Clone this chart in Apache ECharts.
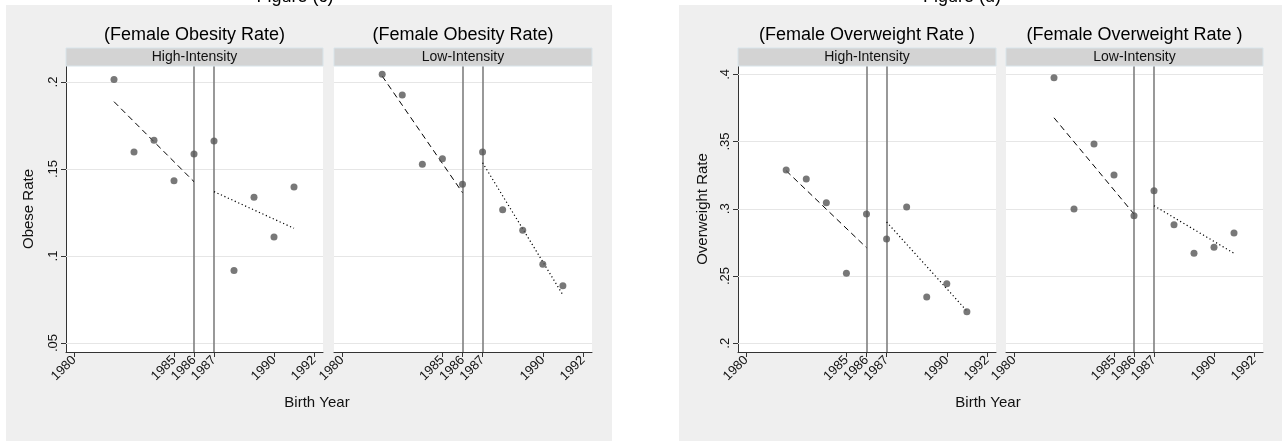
<!DOCTYPE html>
<html><head><meta charset="utf-8">
<script src="https://cdn.jsdelivr.net/npm/echarts@6/dist/echarts.min.js"></script>
<style>html,body{margin:0;padding:0;background:#fff}#c{width:1282px;height:441px}</style>
</head><body><div id="c"></div>
<script>
// ---------- data ----------
const years = [1982, 1983, 1984, 1985, 1986, 1987, 1988, 1989, 1990, 1991];
const obeseHigh = [0.2015, 0.1598, 0.1665, 0.1433, 0.1586, 0.1661, 0.0916, 0.1337, 0.1109, 0.1397];
const obeseLow  = [0.2044, 0.1925, 0.1527, 0.1559, 0.1412, 0.1598, 0.1266, 0.1148, 0.0952, 0.0829];
const overHigh  = [0.3288, 0.3222, 0.3045, 0.2520, 0.2961, 0.2775, 0.3013, 0.2344, 0.2443, 0.2235];
const overLow   = [0.3975, 0.2999, 0.3482, 0.3251, 0.2949, 0.3135, 0.2882, 0.2669, 0.2714, 0.2820];
// fitted-line end points (value at first and last year of each segment)
const preYears  = [1982, 1986];
const postYears = [1987, 1991];
const obeseHighPre = [0.1887, 0.1427], obeseHighPost = [0.1370, 0.1159];
const obeseLowPre  = [0.2034, 0.1364], obeseLowPost  = [0.1536, 0.0776];
const overHighPre  = [0.3283, 0.2711], overHighPost  = [0.2902, 0.2240];
const overLowPre   = [0.3677, 0.2961], overLowPost   = [0.3023, 0.2669];
const cutoffYears = [1986, 1987];
const xTicks = [1980, 1985, 1986, 1987, 1990, 1992];
const obeseTicks = [0.05, 0.1, 0.15, 0.2];
const obeseTickLabels = ['.05', '.1', '.15', '.2'];
const overTicks = [0.2, 0.25, 0.3, 0.35, 0.4];
const overTickLabels = ['.2', '.25', '.3', '.35', '.4'];
const stripLabels = ['High-Intensity', 'Low-Intensity'];
const titleObese = '(Female Obesity Rate)';
const titleOver = '(Female Overweight Rate )';
const xTitle = 'Birth Year';
const yTitleObese = 'Obese Rate';
const yTitleOver = 'Overweight Rate';
const topTexts = ['Figure (c)', 'Figure (d)'];

// ---------- layout ----------
const FONT = 'Liberation Sans, Arial, Helvetica, sans-serif';
const TOP = 66, H = 286;
const panels = [
  {left: 66,   width: 257, vals: obeseHigh, pre: obeseHighPre, post: obeseHighPost, ymin: 0.0448, ymax: 0.2092, ticks: obeseTicks, labels: obeseTickLabels, yname: yTitleObese, ygap: 30, strip: stripLabels[0], title: titleObese},
  {left: 334,  width: 258, vals: obeseLow,  pre: obeseLowPre,  post: obeseLowPost,  ymin: 0.0448, ymax: 0.2092, ticks: obeseTicks, labels: obeseTickLabels, yname: null, strip: stripLabels[1], title: titleObese},
  {left: 738,  width: 258, vals: overHigh,  pre: overHighPre,  post: overHighPost,  ymin: 0.1935, ymax: 0.4062, ticks: overTicks, labels: overTickLabels, yname: yTitleOver, ygap: 28, strip: stripLabels[0], title: titleOver},
  {left: 1006, width: 257, vals: overLow,   pre: overLowPre,   post: overLowPost,   ymin: 0.1935, ymax: 0.4062, ticks: overTicks, labels: overTickLabels, yname: null, strip: stripLabels[1], title: titleOver}
];

const grid = [], xAxis = [], yAxis = [], series = [], graphic = [];

// figure backgrounds
graphic.push({type: 'rect', z: -10, shape: {x: 6, y: 5, width: 606, height: 436}, style: {fill: '#efefef'}, silent: true});
graphic.push({type: 'rect', z: -10, shape: {x: 679, y: 5, width: 603, height: 436}, style: {fill: '#efefef'}, silent: true});
// cut-off top captions
graphic.push({type: 'text', z: 5, x: 295, y: -3, style: {text: topTexts[0], font: '18px ' + FONT, fill: '#000', align: 'center', verticalAlign: 'middle'}});
graphic.push({type: 'text', z: 5, x: 962, y: -3, style: {text: topTexts[1], font: '18px ' + FONT, fill: '#000', align: 'center', verticalAlign: 'middle'}});
// x titles
graphic.push({type: 'text', z: 5, x: 317, y: 403, style: {text: xTitle, font: '15px ' + FONT, fill: '#111', align: 'center', verticalAlign: 'middle'}});
graphic.push({type: 'text', z: 5, x: 988, y: 403, style: {text: xTitle, font: '15px ' + FONT, fill: '#111', align: 'center', verticalAlign: 'middle'}});

panels.forEach((p, i) => {
  grid.push({left: p.left, top: TOP, width: p.width, height: H, show: true, backgroundColor: '#ffffff', borderWidth: 0, containLabel: false});
  const cx = p.left + p.width / 2;
  // title and strip
  graphic.push({type: 'text', z: 5, x: cx, y: 35, style: {text: p.title, font: '18px ' + FONT, fill: '#000', align: 'center', verticalAlign: 'middle'}});
  graphic.push({type: 'rect', z: 5, shape: {x: p.left, y: 48, width: p.width, height: 18}, style: {fill: '#d3d3d3', stroke: '#d8e4ea', lineWidth: 1}});
  graphic.push({type: 'text', z: 6, x: cx, y: 57, style: {text: p.strip, font: '14px ' + FONT, fill: '#111', align: 'center', verticalAlign: 'middle'}});

  xAxis.push({
    type: 'value', gridIndex: i, min: 1979.6, max: 1992.45,
    axisLine: {show: true, onZero: false, lineStyle: {color: '#333', width: 1}},
    axisTick: {show: true, customValues: xTicks, length: 5, lineStyle: {color: '#333', width: 1}},
    axisLabel: {show: true, customValues: xTicks, rotate: 45, margin: 6, fontSize: 13, fontFamily: FONT, color: '#111', formatter: v => String(v)},
    splitLine: {show: false}
  });
  const fmt = v => { const k = p.ticks.findIndex(t => Math.abs(t - v) < 1e-9); return k >= 0 ? p.labels[k] : ''; };
  const showY = !!p.yname;
  yAxis.push({
    type: 'value', gridIndex: i, min: p.ymin, max: p.ymax, show: showY,
    axisLine: {show: true, onZero: false, lineStyle: {color: '#333', width: 1}},
    axisTick: {show: true, customValues: p.ticks, length: 5, lineStyle: {color: '#333', width: 1}},
    axisLabel: {show: true, customValues: p.ticks, rotate: 90, margin: 6, fontSize: 13, fontFamily: FONT, color: '#111', formatter: fmt},
    splitLine: {show: false},
    name: p.yname || '', nameLocation: 'middle', nameRotate: 90, nameGap: p.ygap || 30,
    nameTextStyle: {fontSize: 15, fontFamily: FONT, color: '#111'}
  });

  // horizontal grid lines
  series.push({
    type: 'line', xAxisIndex: i, yAxisIndex: i, data: [], silent: true, z: 1,
    markLine: {silent: true, z: 1, symbol: ['none', 'none'], label: {show: false}, animation: false,
      lineStyle: {color: '#e6e6e6', width: 1, type: 'solid'},
      data: p.ticks.map(v => ({yAxis: v}))}
  });
  // cutoff vertical lines
  series.push({
    type: 'line', xAxisIndex: i, yAxisIndex: i, data: [], silent: true, z: 2,
    markLine: {silent: true, z: 2, symbol: ['none', 'none'], label: {show: false}, animation: false,
      lineStyle: {color: '#7f7f7f', width: 1.6, type: 'solid'},
      data: cutoffYears.map(v => ({xAxis: v}))}
  });
  // fitted lines
  series.push({
    type: 'line', xAxisIndex: i, yAxisIndex: i, z: 3, showSymbol: false, silent: true,
    data: preYears.map((y, k) => [y, p.pre[k]]),
    lineStyle: {color: '#000', width: 1, type: [6, 4]}
  });
  series.push({
    type: 'line', xAxisIndex: i, yAxisIndex: i, z: 3, showSymbol: false, silent: true,
    data: postYears.map((y, k) => [y, p.post[k]]),
    lineStyle: {color: '#000', width: 1.2, type: [1.2, 2.6]}
  });
  // points
  series.push({
    type: 'scatter', xAxisIndex: i, yAxisIndex: i, z: 4, symbol: 'circle', symbolSize: 7,
    itemStyle: {color: '#565656'},
    data: years.map((y, k) => [y, p.vals[k]])
  });
});

const chart = echarts.init(document.getElementById('c'), null, {renderer: 'canvas', width: 1282, height: 441});
chart.setOption({
  animation: false,
  backgroundColor: '#ffffff',
  textStyle: {fontFamily: FONT},
  grid, xAxis, yAxis, series, graphic
});
</script>
</body></html>
